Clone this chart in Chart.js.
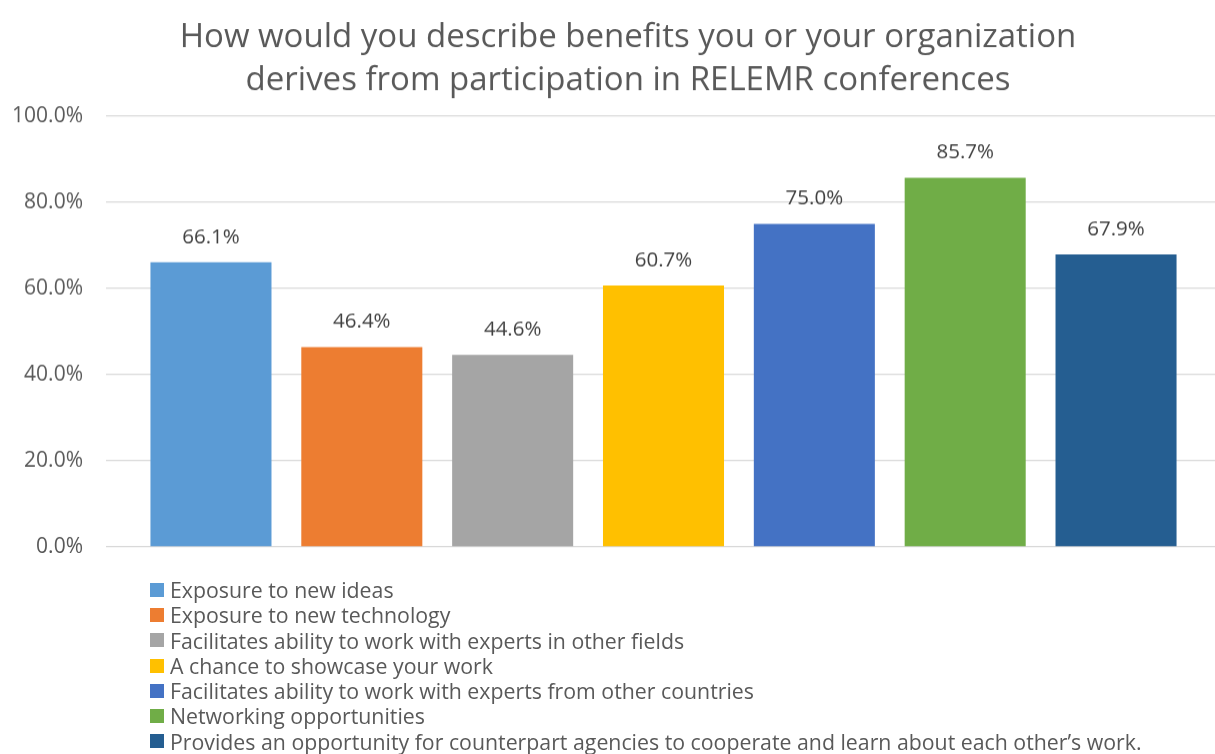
<!DOCTYPE html>
<html>
<head>
<meta charset="utf-8">
<script src="https://cdn.jsdelivr.net/npm/chart.js@4"></script>
<style>
  html, body { margin: 0; padding: 0; background: #fff; overflow: hidden; width: 1215px; height: 754px; }
  #wrap { position: absolute; left: 0; top: 0; width: 1221px; height: 581.6px; }
  #legend { position: absolute; left: 150px; top: 577px; font-family: "Open Sans", sans-serif; font-size: 21.3px; color: #595959; }
  .item { height: 25.3px; line-height: 25.3px; white-space: nowrap; display: flex; align-items: center; }
  .sw { width: 14px; height: 14px; margin-right: 6px; flex: none; }
</style>
</head>
<body>
<div id="wrap"><canvas id="c"></canvas></div>
<div id="legend"></div>
<script>
const categories = [
  "Exposure to new ideas",
  "Exposure to new technology",
  "Facilitates ability to work with experts in other fields",
  "A chance to showcase your work",
  "Facilitates ability to work with experts from other countries",
  "Networking opportunities",
  "Provides an opportunity for counterpart agencies to cooperate and learn about each other\u2019s work."
];
const values = [66.1, 46.4, 44.6, 60.7, 75.0, 85.7, 67.9];
const colors = ["#5B9BD5", "#ED7D31", "#A5A5A5", "#FFC000", "#4472C4", "#70AD47", "#255E91"];
const yTicks = [0, 20, 40, 60, 80, 100];
const titleLines = ["How would you describe benefits you or your organization", "derives from participation in RELEMR conferences"];

const datasets = categories.map((name, i) => ({
  label: name,
  data: [values[i]],
  backgroundColor: colors[i],
  categoryPercentage: 0.947,
  barPercentage: 0.8024
}));

const valueLabels = {
  id: 'valueLabels',
  afterDatasetsDraw(chart) {
    const ctx = chart.ctx;
    ctx.save();
    ctx.font = '20.5px "Open Sans", sans-serif';
    ctx.fillStyle = '#404040';
    ctx.textAlign = 'center';
    ctx.textBaseline = 'middle';
    chart.data.datasets.forEach((ds, i) => {
      const meta = chart.getDatasetMeta(i);
      meta.data.forEach((bar, j) => {
        ctx.fillText(ds.data[j].toFixed(1) + '%', bar.x, bar.y - 25);
      });
    });
    ctx.restore();
  }
};

// Centre the title over the region the original chart used (x 35 .. right edge)
const titleShift = {
  id: 'titleShift',
  afterLayout(chart) {
    const t = chart.titleBlock;
    if (t) { t.left = 35; t.right = chart.width; t.width = t.right - t.left; }
  }
};

const chart = new Chart(document.getElementById('c'), {
  type: 'bar',
  data: { labels: [''], datasets },
  options: {
    responsive: true,
    maintainAspectRatio: false,
    animation: false,
    layout: { padding: { left: 0, right: 0, top: 0, bottom: 12 } },
    plugins: {
      legend: { display: false },
      tooltip: { enabled: false },
      title: {
        display: true,
        text: titleLines,
        color: '#595959',
        font: { family: '"Open Sans", sans-serif', size: 33, weight: 'normal', lineHeight: 1.3 },
        padding: { top: 16, bottom: 14.2 }
      }
    },
    scales: {
      x: { display: false },
      y: {
        min: 0, max: 100,
        afterBuildTicks(scale) { scale.ticks = yTicks.map(v => ({ value: v })); },
        afterFit(scale) { scale.width = 106; },
        border: { display: false },
        grid: { color: '#D9D9D9', lineWidth: 1.3, drawTicks: false },
        ticks: {
          padding: 23,
          color: '#595959',
          font: { family: '"Open Sans", sans-serif', size: 21 },
          callback: v => v.toFixed(1) + '%'
        }
      }
    }
  },
  plugins: [valueLabels, titleShift]
});

const legend = document.getElementById('legend');
categories.forEach((name, i) => {
  const row = document.createElement('div');
  row.className = 'item';
  const sw = document.createElement('span');
  sw.className = 'sw';
  sw.style.background = colors[i];
  const t = document.createElement('span');
  t.textContent = name;
  row.appendChild(sw);
  row.appendChild(t);
  legend.appendChild(row);
});
</script>
</body>
</html>
